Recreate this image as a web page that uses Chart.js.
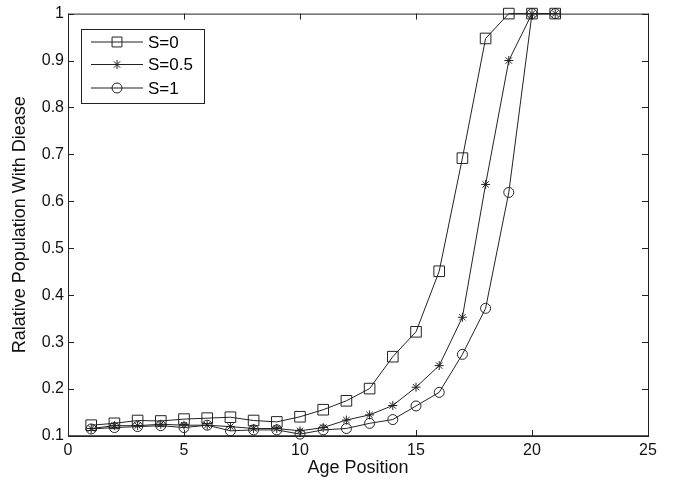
<!DOCTYPE html>
<html>
<head>
<meta charset="utf-8">
<script src="https://cdn.jsdelivr.net/npm/chart.js@4/dist/chart.umd.min.js"></script>
<style>
  html, body { margin: 0; padding: 0; background: #fff; }
  #wrap { width: 675px; height: 482px; position: relative; }
</style>
</head>
<body>
<div id="wrap"><canvas id="c"></canvas></div>
<script>
// age positions and the three curves
const ages = [1,2,3,4,5,6,7,8,9,10,11,12,13,14,15,16,17,18,19,20,21];
const s0  = [0.123,0.127,0.133,0.132,0.136,0.138,0.140,0.133,0.130,0.141,0.156,0.175,0.201,0.269,0.322,0.451,0.692,0.947,1,1,1];
const s05 = [0.116,0.122,0.122,0.125,0.123,0.123,0.120,0.116,0.116,0.111,0.118,0.134,0.145,0.165,0.204,0.250,0.353,0.636,0.900,1,1];
const s1  = [0.115,0.118,0.120,0.122,0.118,0.123,0.111,0.113,0.113,0.104,0.113,0.116,0.127,0.135,0.164,0.193,0.274,0.372,0.619,1,1];
const labels = ['S=0', 'S=0.5', 'S=1'];
const xTicks = [0,5,10,15,20,25];
const yTicks = [0.1,0.2,0.3,0.4,0.5,0.6,0.7,0.8,0.9,1];

const INK = '#222';
const FONT = "'Liberation Sans', Arial, sans-serif";

const pts = (ys) => ages.map((a, i) => ({ x: a, y: ys[i] }));

function ds(label, ys, style, r) {
    return {
        label, data: pts(ys),
        borderColor: INK, borderWidth: 1, tension: 0,
        pointStyle: style, pointRadius: r, pointHoverRadius: r,
        pointBorderColor: INK, pointBorderWidth: 1,
        pointBackgroundColor: 'rgba(0,0,0,0)',
        clip: false
    };
}

// small marker painter for the legend
function marker(ctx, style, x, y, r) {
    ctx.beginPath();
    if (style === 'rect') {
        const h = r * Math.SQRT1_2;
        ctx.rect(x - h, y - h, 2 * h, 2 * h);
    } else if (style === 'circle') {
        ctx.arc(x, y, r, 0, Math.PI * 2);
    } else {
        for (let k = 0; k < 4; k++) {
            const a = k * Math.PI / 4;
            ctx.moveTo(x - r * Math.cos(a), y - r * Math.sin(a));
            ctx.lineTo(x + r * Math.cos(a), y + r * Math.sin(a));
        }
    }
    ctx.stroke();
}

// box, inward ticks and the framed legend
const frame = {
    id: 'frame',
    afterDraw(chart) {
        const { ctx, chartArea: a, scales } = chart;
        ctx.save();
        ctx.strokeStyle = INK;
        ctx.lineWidth = 1;
        ctx.strokeRect(a.left + 0.5, a.top + 0.5, a.right - a.left, a.bottom - a.top);
        ctx.lineWidth = 1.5;
        ctx.beginPath();
        ctx.moveTo(a.left, a.bottom); ctx.lineTo(a.right, a.bottom);
        ctx.stroke();
        ctx.lineWidth = 1;
        ctx.beginPath();
        xTicks.forEach(v => {
            const px = Math.round(scales.x.getPixelForValue(v)) + 0.5;
            ctx.moveTo(px, a.bottom); ctx.lineTo(px, a.bottom - 6);
            ctx.moveTo(px, a.top); ctx.lineTo(px, a.top + 6);
        });
        yTicks.forEach(v => {
            const py = Math.round(scales.y.getPixelForValue(v)) + 0.5;
            ctx.moveTo(a.left, py); ctx.lineTo(a.left + 6, py);
            ctx.moveTo(a.right, py); ctx.lineTo(a.right - 6, py);
        });
        ctx.stroke();

        // legend
        const bx = 81, by = 29, bw = 123, bh = 74;
        ctx.fillStyle = '#fff';
        ctx.fillRect(bx, by, bw, bh);
        ctx.strokeRect(bx + 0.5, by + 0.5, bw, bh);
        const rows = [42, 64.5, 88];
        chart.data.datasets.forEach((d, i) => {
            const y = rows[i];
            ctx.beginPath();
            ctx.moveTo(91, y); ctx.lineTo(143, y);
            ctx.stroke();
            ctx.fillStyle = '#fff';
            marker(ctx, d.pointStyle, 117, y, d.pointStyle === 'rect' ? 7 : (d.pointStyle === 'circle' ? 5 : 4.5));
            ctx.fillStyle = '#000';
            ctx.font = '17px ' + FONT;
            ctx.textBaseline = 'middle';
            ctx.textAlign = 'left';
            ctx.fillText(d.label, 148, y + 1);
        });
        ctx.restore();
    }
};

new Chart(document.getElementById('c'), {
    type: 'line',
    data: {
        datasets: [
            ds(labels[0], s0, 'rect', 7.5),
            ds(labels[1], s05, 'star', 4.5),
            ds(labels[2], s1, 'circle', 5)
        ]
    },
    options: {
        responsive: true, maintainAspectRatio: false, animation: false,
        layout: { padding: { top: 13, right: 27, left: 0, bottom: 0 } },
        plugins: { legend: { display: false }, tooltip: { enabled: false } },
        scales: {
            x: {
                type: 'linear', min: 0, max: 25,
                afterFit: s => { s.height = 46; },
                afterBuildTicks: s => { s.ticks = xTicks.map(v => ({ value: v })); },
                grid: { display: false, drawTicks: false },
                border: { display: false },
                ticks: { color: '#111', font: { family: FONT, size: 16 }, padding: 5, maxRotation: 0 },
                title: { display: true, text: 'Age Position', color: '#111', font: { family: FONT, size: 18 }, padding: { top: 0, bottom: 3 } }
            },
            y: {
                type: 'linear', min: 0.1, max: 1,
                afterFit: s => { s.width = 68; },
                afterBuildTicks: s => { s.ticks = yTicks.map(v => ({ value: v })); },
                grid: { display: false, drawTicks: false },
                border: { display: false },
                ticks: { color: '#111', font: { family: FONT, size: 16 }, padding: 4, callback: v => String(+v.toFixed(1)) },
                title: { display: true, text: 'Ralative Population With Diease', color: '#111', font: { family: FONT, size: 18 }, padding: { top: 9, bottom: 0 } }
            }
        }
    },
    plugins: [frame]
});
</script>
</body>
</html>
